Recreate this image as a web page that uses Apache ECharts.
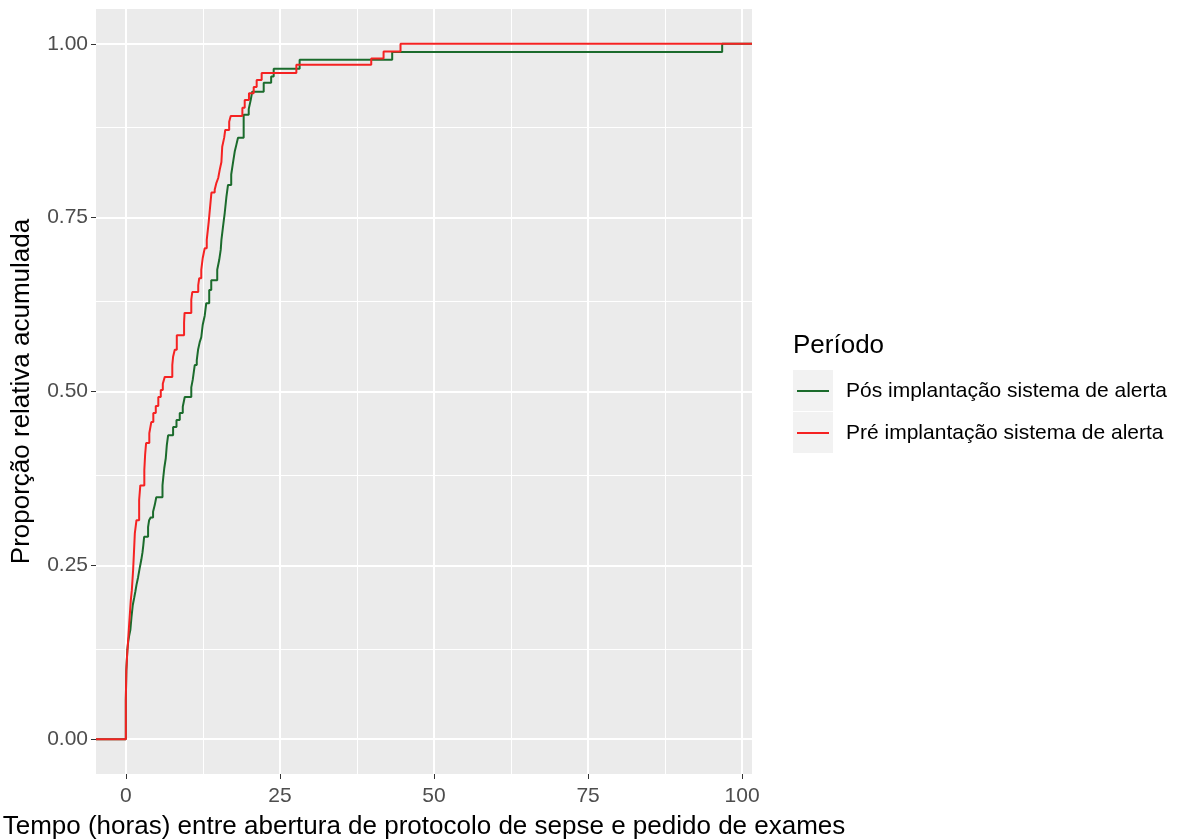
<!DOCTYPE html>
<html><head><meta charset="utf-8">
<script src="https://cdn.jsdelivr.net/npm/echarts@6/dist/echarts.min.js"></script>
<style>html,body{margin:0;padding:0;background:#fff}#c{width:1183px;height:840px}</style>
</head><body><div id="c"></div>
<script>
// Pré implantação sistema de alerta (ECDF steps: time in hours, cumulative proportion)
const preX = [0.00,0.08,0.21,0.37,0.53,0.70,0.81,0.97,1.18,1.30,1.46,1.73,2.16,2.35,3.00,3.13,3.29,3.81,4.13,4.46,4.86,5.27,5.67,6.00,6.32,7.54,7.67,7.94,8.27,9.45,9.53,10.62,10.78,11.75,11.91,12.24,12.48,12.80,13.13,13.45,13.70,13.89,14.42,14.70,14.99,15.24,15.51,15.64,15.96,16.13,16.77,17.02,18.91,19.29,19.98,20.75,21.23,22.04,27.67,39.82,41.82,44.57];
const preY = [0.056,0.099,0.121,0.142,0.164,0.186,0.200,0.214,0.243,0.265,0.296,0.315,0.344,0.365,0.387,0.409,0.426,0.440,0.456,0.469,0.479,0.492,0.502,0.511,0.521,0.538,0.550,0.560,0.581,0.599,0.613,0.632,0.643,0.653,0.663,0.675,0.692,0.706,0.718,0.744,0.768,0.786,0.790,0.800,0.807,0.819,0.830,0.852,0.865,0.876,0.888,0.896,0.908,0.919,0.929,0.938,0.948,0.958,0.970,0.979,0.989,1.0];
// Pós implantação sistema de alerta
const posX = [0.00,0.08,0.24,0.41,0.57,0.73,0.92,1.13,1.35,1.54,1.73,1.99,2.27,2.51,2.71,2.84,2.97,3.61,3.78,4.05,4.42,4.70,4.94,5.95,6.08,6.24,6.48,6.65,6.86,7.67,8.22,8.75,9.24,9.56,10.62,10.86,11.18,11.51,11.72,11.99,12.24,12.48,12.80,13.05,13.53,13.86,14.83,15.15,15.40,15.51,15.77,16.05,16.32,16.58,17.10,17.39,17.67,17.94,18.20,19.12,19.94,20.26,20.50,22.37,23.58,23.99,28.20,43.22,96.76];
const posY = [0.056,0.099,0.128,0.142,0.150,0.157,0.176,0.193,0.203,0.212,0.222,0.233,0.247,0.258,0.269,0.279,0.291,0.305,0.315,0.319,0.327,0.337,0.348,0.365,0.377,0.390,0.404,0.423,0.437,0.449,0.459,0.469,0.478,0.492,0.506,0.517,0.538,0.545,0.560,0.571,0.578,0.596,0.609,0.627,0.646,0.660,0.675,0.689,0.704,0.718,0.737,0.757,0.780,0.797,0.812,0.829,0.845,0.855,0.865,0.898,0.906,0.919,0.931,0.944,0.953,0.964,0.977,0.988,1.0];

const seriesNames = ['Pós implantação sistema de alerta', 'Pré implantação sistema de alerta'];
const xTicks = [0, 25, 50, 75, 100];
const xMinor = [12.5, 37.5, 62.5, 87.5];
const yTicks = [0, 0.25, 0.5, 0.75, 1];
const yMinor = [0.125, 0.375, 0.625, 0.875];
const xMin = -4.84, xMax = 101.6, yMin = -0.05, yMax = 1.05;

function ecdf(xs, ys) {
  const d = [[xMin, 0]];
  xs.forEach((x, i) => d.push([x, ys[i]]));
  d.push([xMax, 1]);
  return d;
}

const FONT = 'Liberation Sans';
const chart = echarts.init(document.getElementById('c'), null, {renderer: 'canvas'});

const gridLines = [];
xMinor.forEach(v => gridLines.push({xAxis: v, lineStyle: {width: 1, color: '#fff', type: 'solid'}}));
yMinor.forEach(v => gridLines.push({yAxis: v, lineStyle: {width: 1, color: '#fff', type: 'solid'}}));
xTicks.forEach(v => gridLines.push({xAxis: v, lineStyle: {width: 2, color: '#fff', type: 'solid'}}));
yTicks.forEach(v => gridLines.push({yAxis: v, lineStyle: {width: 2, color: '#fff', type: 'solid'}}));

chart.setOption({
  animation: false,
  textStyle: {fontFamily: FONT},
  title: {text: 'Período', left: 793, top: 333, padding: 0, textStyle: {fontFamily: FONT, fontSize: 26, fontWeight: 'normal', color: '#000'}},
  graphic: [
    {type: 'rect', shape: {x: 793, y: 370, width: 40, height: 41}, style: {fill: '#F2F2F2'}, z: 0},
    {type: 'rect', shape: {x: 793, y: 412, width: 40, height: 41}, style: {fill: '#F2F2F2'}, z: 0}
  ],
  legend: {
    orient: 'vertical', left: 797, top: 379, padding: 0,
    itemWidth: 32, itemHeight: 2, itemGap: 18, icon: 'rect',
    data: seriesNames,
    textStyle: {fontFamily: FONT, fontSize: 21, color: '#000', lineHeight: 24, padding: [0, 0, 0, 12]}
  },
  grid: {left: 96, right: 431, top: 9, bottom: 66, show: true, backgroundColor: '#EBEBEB', borderWidth: 0,
    outerBoundsMode: 'none', containLabel: false},
  xAxis: {
    type: 'value', min: xMin, max: xMax,
    name: 'Tempo (horas) entre abertura de protocolo de sepse e pedido de exames',
    nameLocation: 'middle', nameGap: 40,
    nameTextStyle: {fontFamily: FONT, fontSize: 26, color: '#000'},
    axisLine: {show: false, onZero: false},
    axisTick: {show: true, length: 5, customValues: xTicks, lineStyle: {color: '#333', width: 1}},
    axisLabel: {customValues: xTicks, fontFamily: FONT, fontSize: 21, color: '#4D4D4D', margin: 12},
    splitLine: {show: false}
  },
  yAxis: {
    type: 'value', min: yMin, max: yMax,
    name: 'Proporção relativa acumulada',
    nameLocation: 'middle', nameGap: 61,
    nameTextStyle: {fontFamily: FONT, fontSize: 26, color: '#000'},
    axisLine: {show: false, onZero: false},
    axisTick: {show: true, length: 5, customValues: yTicks, lineStyle: {color: '#333', width: 1}},
    axisLabel: {customValues: yTicks, fontFamily: FONT, fontSize: 21, color: '#4D4D4D', margin: 8,
      formatter: v => v.toFixed(2)},
    splitLine: {show: false}
  },
  series: [
    {type: 'line', name: '_grid', data: [], silent: true, z: 1,
      markLine: {silent: true, z: 1, symbol: 'none', label: {show: false}, animation: false, data: gridLines}},
    {type: 'line', name: seriesNames[0], step: 'end', data: ecdf(posX, posY), showSymbol: false, symbol: 'none',
      lineStyle: {color: '#1B6B2C', width: 2}, itemStyle: {color: '#1B6B2C'}, z: 3},
    {type: 'line', name: seriesNames[1], step: 'end', data: ecdf(preX, preY), showSymbol: false, symbol: 'none',
      lineStyle: {color: '#F52222', width: 2}, itemStyle: {color: '#F52222'}, z: 4}
  ]
});
</script></body></html>
